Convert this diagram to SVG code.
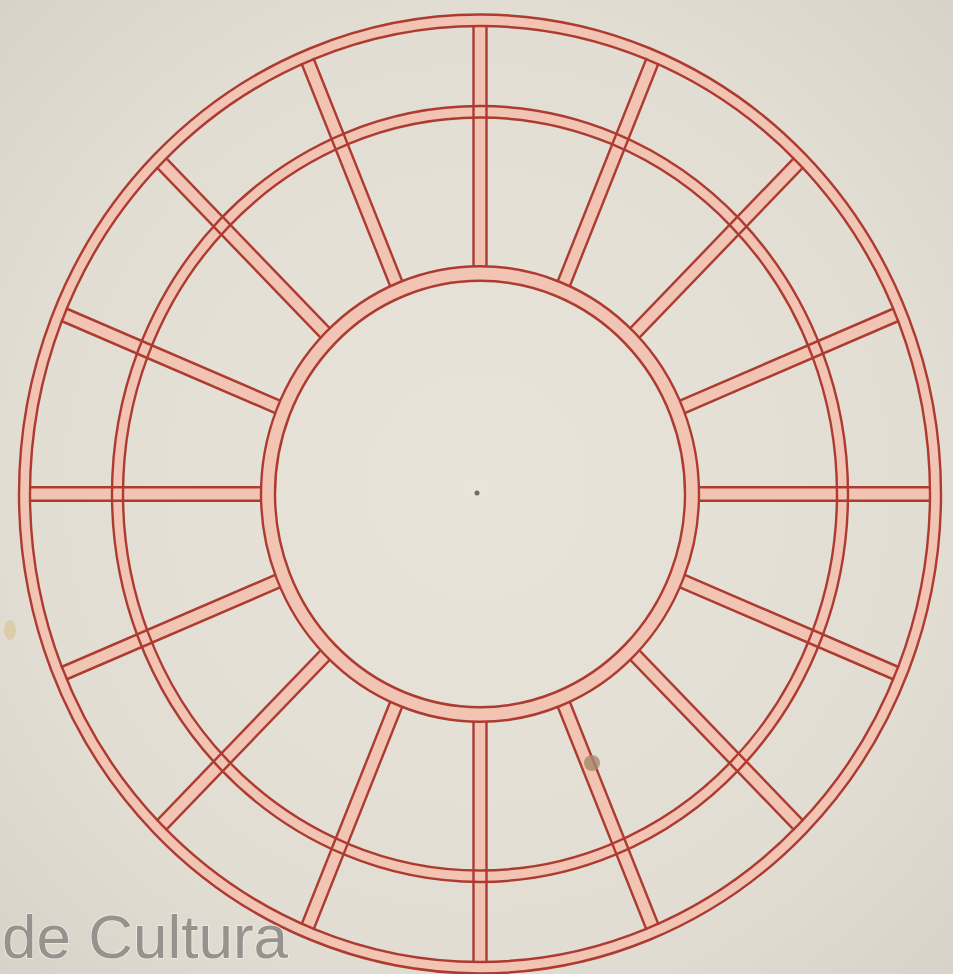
<svg xmlns="http://www.w3.org/2000/svg" xmlns:xlink="http://www.w3.org/1999/xlink" width="953" height="974" viewBox="0 0 953 974">
<defs>
<radialGradient id="paper" cx="50%" cy="50%" r="70%">
<stop offset="0" stop-color="#e8e4d9"/>
<stop offset="0.7" stop-color="#e2ddd2"/>
<stop offset="1" stop-color="#d7d3c9"/>
</radialGradient>
<style>
.band{fill:none;stroke:#f2c4b3}
.ink{fill:none;stroke:#ad3b31;stroke-width:2.4}
.sfill{fill:#f2c4b3}
.wm{font-family:"Liberation Sans",Arial,sans-serif;font-size:62px;fill:#96938e;stroke:#f2eee7;stroke-width:1.5;paint-order:stroke}
</style>
<g id="spokeBand"><rect class="sfill" x="-6.5" y="-451" width="13" height="232"/></g>
<g id="spokeInk"><line class="ink" x1="-6.5" y1="-219" x2="-6.5" y2="-451"/><line class="ink" x1="6.5" y1="-219" x2="6.5" y2="-451"/></g>
</defs>
<rect width="953" height="974" fill="url(#paper)"/>
<g transform="translate(480 494) scale(1 1.04)">
<g id="bands">
<circle class="band" r="455.5" stroke-width="11"/>
<ellipse class="band" rx="362.5" ry="367.5" stroke-width="11"/>
<circle class="band" r="212" stroke-width="14"/>
<use xlink:href="#spokeBand" transform="rotate(0)"/>
<use xlink:href="#spokeBand" transform="rotate(22.5)"/>
<use xlink:href="#spokeBand" transform="rotate(45)"/>
<use xlink:href="#spokeBand" transform="rotate(67.5)"/>
<use xlink:href="#spokeBand" transform="rotate(90)"/>
<use xlink:href="#spokeBand" transform="rotate(112.5)"/>
<use xlink:href="#spokeBand" transform="rotate(135)"/>
<use xlink:href="#spokeBand" transform="rotate(157.5)"/>
<use xlink:href="#spokeBand" transform="rotate(180)"/>
<use xlink:href="#spokeBand" transform="rotate(202.5)"/>
<use xlink:href="#spokeBand" transform="rotate(225)"/>
<use xlink:href="#spokeBand" transform="rotate(247.5)"/>
<use xlink:href="#spokeBand" transform="rotate(270)"/>
<use xlink:href="#spokeBand" transform="rotate(292.5)"/>
<use xlink:href="#spokeBand" transform="rotate(315)"/>
<use xlink:href="#spokeBand" transform="rotate(337.5)"/>
</g>
<g id="rings">
<circle class="ink" r="461"/>
<circle class="ink" r="450"/>
<ellipse class="ink" rx="368" ry="373"/>
<ellipse class="ink" rx="357" ry="362"/>
<circle class="ink" r="219"/>
<circle class="ink" r="205"/>
</g>
<g id="spokes">
<use xlink:href="#spokeInk" transform="rotate(0)"/>
<use xlink:href="#spokeInk" transform="rotate(22.5)"/>
<use xlink:href="#spokeInk" transform="rotate(45)"/>
<use xlink:href="#spokeInk" transform="rotate(67.5)"/>
<use xlink:href="#spokeInk" transform="rotate(90)"/>
<use xlink:href="#spokeInk" transform="rotate(112.5)"/>
<use xlink:href="#spokeInk" transform="rotate(135)"/>
<use xlink:href="#spokeInk" transform="rotate(157.5)"/>
<use xlink:href="#spokeInk" transform="rotate(180)"/>
<use xlink:href="#spokeInk" transform="rotate(202.5)"/>
<use xlink:href="#spokeInk" transform="rotate(225)"/>
<use xlink:href="#spokeInk" transform="rotate(247.5)"/>
<use xlink:href="#spokeInk" transform="rotate(270)"/>
<use xlink:href="#spokeInk" transform="rotate(292.5)"/>
<use xlink:href="#spokeInk" transform="rotate(315)"/>
<use xlink:href="#spokeInk" transform="rotate(337.5)"/>
</g>
</g>
<circle cx="592" cy="763" r="8" fill="#a58a6c" opacity="0.8"/>
<circle cx="477" cy="493" r="2.5" fill="#7a6a58"/>
<ellipse cx="10" cy="630" rx="6" ry="10" fill="#d9c49a" opacity="0.7"/>
<text class="wm" x="2" y="958">de Cultura</text>
</svg>
